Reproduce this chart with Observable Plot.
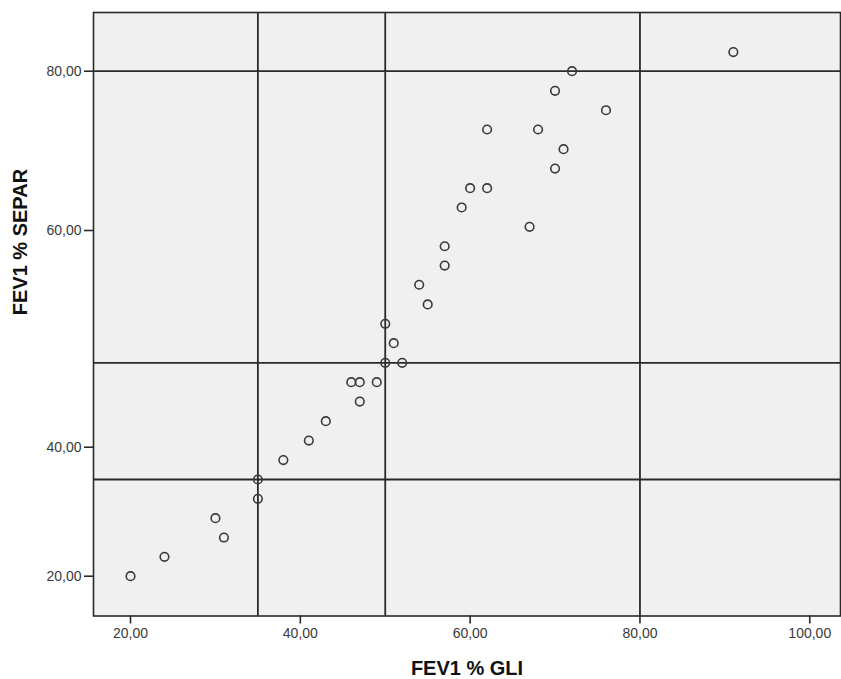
<!DOCTYPE html>
<html>
<head>
<meta charset="utf-8">
<script src="https://cdn.jsdelivr.net/npm/d3@7"></script>
<script src="https://cdn.jsdelivr.net/npm/@observablehq/plot@0.6"></script>
<style>
  html, body { margin: 0; padding: 0; background: #fff; }
  #chart svg { display: block; font-family: "Liberation Sans", Arial, sans-serif; }
</style>
</head>
<body>
<div id="chart"></div>
<script>
// FEV1 % GLI (x) vs FEV1 % SEPAR (y)
const gli   = [91, 72, 70, 76, 62, 68, 71, 70, 60, 62, 59, 67, 57, 57, 54, 55, 50, 51, 50, 52, 46, 47, 49, 47, 43, 41, 38, 35, 35, 30, 31, 24, 20];
const separ = [82.4, 80, 77.54, 75.1, 72.68, 72.68, 70.21, 67.78, 65.31, 65.31, 62.89, 60.46, 58.81, 57.35, 55.9, 54.41, 52.95, 51.48, 50, 50, 47.7, 47.7, 47.7, 45.41, 43.08, 40.79, 38, 35, 32, 29, 26, 23, 20];
const refX = [35, 50, 80];
const refY = [35, 50, 80];
const xTicks = [20, 40, 60, 80, 100];
const yTicks = [20, 40, 60, 80];
const xTitle = "FEV1 % GLI";
const yTitle = "FEV1 % SEPAR";

const data = gli.map((g, i) => ({gli: g, separ: separ[i]}));
const fmt = d => d.toFixed(2).replace(".", ",");

const chart = Plot.plot({
  width: 841,
  height: 679,
  marginLeft: 93,
  marginRight: 1,
  marginTop: 12,
  marginBottom: 63.5,
  style: {fontFamily: "Liberation Sans, Arial, sans-serif", background: "#fff"},
  x: {type: "linear", domain: [15.64, 103.62]},
  y: {
    type: "linear",
    // the original axis is piecewise (non-uniform spacing between ticks)
    domain: [20, 35, 40, 50, 60, 80],
    range: [575.7, 479, 446.7, 362.3, 230, 70.7]
  },
  marks: [
    Plot.frame({fill: "#f0f0f0", stroke: "none"}),
    Plot.ruleX(refX, {stroke: "#2a2a2a", strokeWidth: 1.8}),
    Plot.ruleY(refY, {stroke: "#2a2a2a", strokeWidth: 1.8}),
    Plot.dot(data, {x: "gli", y: "separ", r: 4.3, stroke: "#3a3a3a", strokeWidth: 1.6, fill: "none"}),
    Plot.frame({stroke: "#2a2a2a", strokeWidth: 1.6, fill: "none"}),
    Plot.axisX({ticks: xTicks, tickFormat: fmt, tickSize: 8, tickPadding: 4, fontSize: 14, label: null, stroke: "#2a2a2a", strokeWidth: 1.6, fill: "#3a3a3a"}),
    Plot.axisY({ticks: yTicks, tickFormat: fmt, tickSize: 9, tickPadding: 3, fontSize: 14, label: null, stroke: "#2a2a2a", strokeWidth: 1.6, fill: "#3a3a3a"}),
    Plot.text([xTitle], {frameAnchor: "bottom", dy: 52.5, lineAnchor: "middle", fontSize: 20, fontWeight: "bold", fill: "#111"}),
    Plot.text([yTitle], {frameAnchor: "left", dx: -73, dy: 1, rotate: -90, lineAnchor: "middle", fontSize: 20, fontWeight: "bold", fill: "#111"})
  ]
});
document.getElementById("chart").appendChild(chart);
</script>
</body>
</html>
